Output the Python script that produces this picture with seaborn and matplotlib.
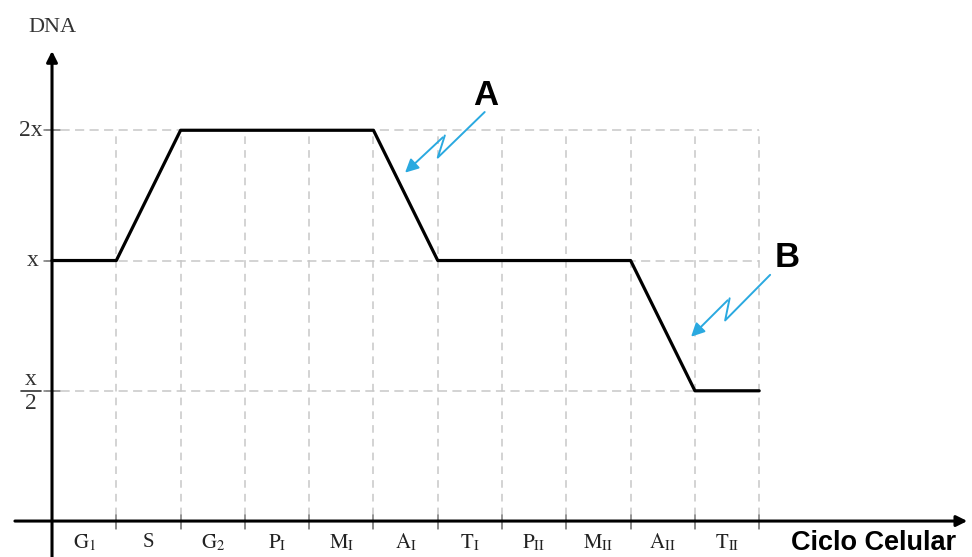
import pandas as pd
import matplotlib.pyplot as plt
import seaborn as sns

# Fases do ciclo e quantidade de DNA (1 = x/2, 2 = x, 3 = 2x)
fases = [r'$\mathrm{G}_1$', 'S', r'$\mathrm{G}_2$', r'$\mathrm{P}_\mathrm{I}$', r'$\mathrm{M}_\mathrm{I}$',
         r'$\mathrm{A}_\mathrm{I}$', r'$\mathrm{T}_\mathrm{I}$', r'$\mathrm{P}_\mathrm{II}$',
         r'$\mathrm{M}_\mathrm{II}$', r'$\mathrm{A}_\mathrm{II}$', r'$\mathrm{T}_\mathrm{II}$']
limites = [0, 1, 2, 3, 4, 5, 6, 7, 8, 9, 10, 11]
nivel_dna = [2, 2, 3, 3, 3, 3, 2, 2, 2, 2, 1, 1]
niveis_y = [1, 2, 3]
rotulos_y = ['x/2', 'x', '2x']

df = pd.DataFrame({"pos": limites, "dna": nivel_dna})

sns.set_style("white")
plt.rcParams['mathtext.fontset'] = 'stix'
serif = ['Liberation Serif', 'DejaVu Serif']
sans = ['Liberation Sans', 'DejaVu Sans']

fig = plt.figure(figsize=(9.72, 5.57), dpi=100)
ax = fig.add_axes([0, 0, 1, 1])
ax.set_xlim(-0.809, 14.31)
ax.set_ylim(-0.276, 4.0)
ax.axis('off')

cinza = '#c8c8c8'
# ------------------------------
# GRADE TRACEJADA
# ------------------------------
for p in limites[1:]:
    ax.plot([p, p], [-0.06, niveis_y[-1]], color=cinza, lw=1.1, ls=(0, (5, 4)), zorder=1)
    ax.plot([p, p], [-0.06, 0.05], color='#777777', lw=1.1, zorder=2)
for n in niveis_y:
    ax.plot([-0.1, limites[-1]], [n, n], color=cinza, lw=1.1, ls=(0, (6, 3.5)), zorder=1)
    ax.plot([-0.12, 0.12], [n, n], color='#777777', lw=1.1, zorder=2)

# ------------------------------
# CURVA DO DNA
# ------------------------------
sns.lineplot(data=df, x="pos", y="dna", color='black', lw=2.3, sort=False,
             estimator=None, ax=ax, zorder=3)
ax.set_xlabel('')
ax.set_ylabel('')

# ------------------------------
# EIXOS COM SETAS
# ------------------------------
ax.annotate('', xy=(14.28, 0), xytext=(-0.62, 0),
            arrowprops=dict(arrowstyle='-|>', color='black', lw=2.2, mutation_scale=16))
ax.annotate('', xy=(0, 3.63), xytext=(0, -0.3),
            arrowprops=dict(arrowstyle='-|>', color='black', lw=2.2, mutation_scale=16))

# rotulos
for i, f in enumerate(fases):
    ax.text(i + 0.5, -0.165, f, ha='center', va='center', fontsize=15, family=serif, color='#222222')
ax.text(12.78, -0.17, 'Ciclo Celular', ha='center', va='center', fontsize=19.5,
        fontweight='bold', family=sans, color='black')
ax.text(0, 3.79, 'DNA', ha='center', va='center', fontsize=16, family=serif, color='#333333')

ax.text(-0.33, 3, rotulos_y[2], ha='center', va='center', fontsize=17, family=serif, color='#333333')
ax.text(-0.30, 2, rotulos_y[1], ha='center', va='center', fontsize=17, family=serif, color='#333333')
ax.text(-0.33, 1.085, 'x', ha='center', va='center', fontsize=17, family=serif, color='#333333')
ax.text(-0.33, 0.90, '2', ha='center', va='center', fontsize=17, family=serif, color='#333333')
ax.plot([-0.48, -0.17], [1, 1], color='#333333', lw=1.2)

# ------------------------------
# SETAS A e B
# ------------------------------
azul = '#2aa9e0'
setas = {
    'A': [(6.73, 3.14), (6.0, 2.79), (6.11, 2.96), (5.46, 2.66), (6.75, 3.27)],
    'B': [(11.17, 1.89), (10.47, 1.54), (10.54, 1.71), (9.91, 1.40), (11.43, 2.02)],
}
for letra, pts in setas.items():
    ax.plot([pts[0][0], pts[1][0], pts[2][0]], [pts[0][1], pts[1][1], pts[2][1]],
            color=azul, lw=1.4)
    ax.annotate('', xy=pts[3], xytext=pts[2],
                arrowprops=dict(arrowstyle='-|>', color=azul, lw=1.4, mutation_scale=20))
    ax.text(pts[4][0], pts[4][1], letra, ha='center', va='center', fontsize=25,
            fontweight='bold', family=sans, color='black')

plt.savefig("out.png", dpi=100)
